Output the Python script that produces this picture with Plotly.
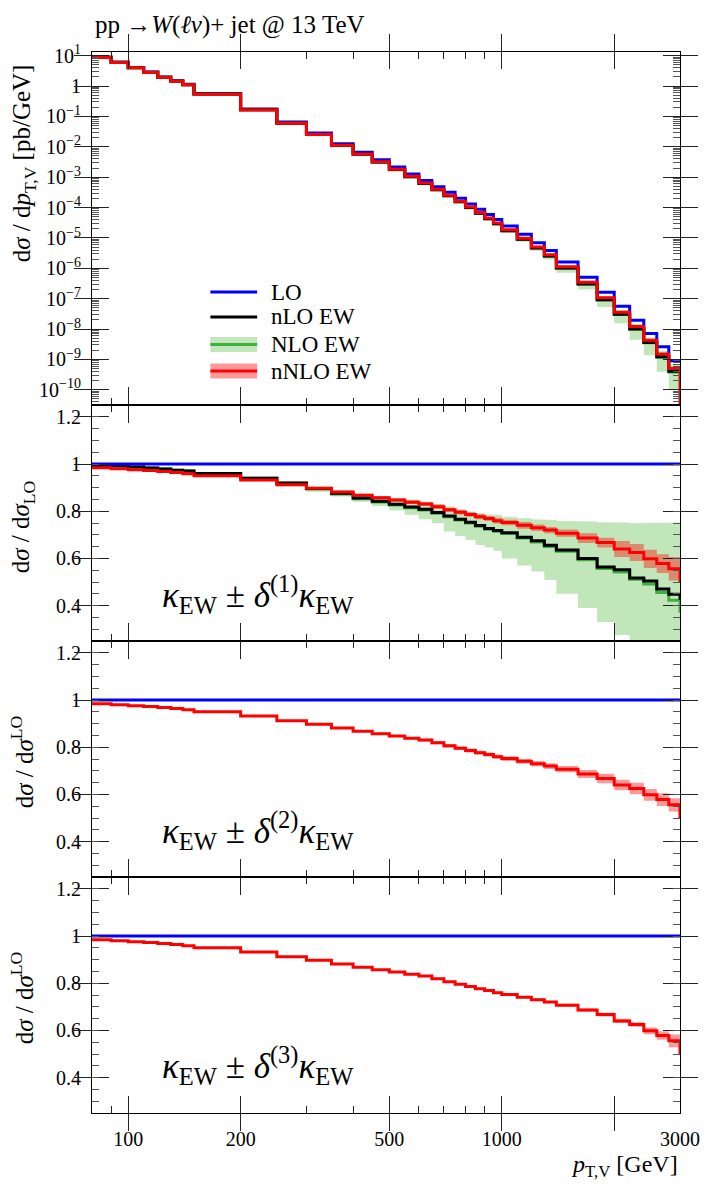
import numpy as np
import plotly.graph_objects as go
from plotly.subplots import make_subplots

# ---------------- data ----------------
edges = [80, 90, 100, 110, 120, 130, 140, 150, 200, 250, 300, 350, 400, 450, 500, 550,
         600, 650, 700, 750, 800, 850, 900, 950, 1000, 1100, 1200, 1300, 1400, 1600,
         1800, 2000, 2200, 2400, 2600, 2800, 3000]

# LO differential cross section [pb/GeV]
xs_lo = [8.9, 6.1, 4.07, 2.88, 1.98, 1.50, 1.14, 0.565, 0.175, 0.065, 0.0285, 0.0127,
         0.0066, 0.00372, 0.00214, 0.00127, 7.7e-4, 4.84e-4, 3.16e-4, 2.04e-4, 1.32e-4,
         8.8e-5, 5.9e-5, 4.07e-5, 2.45e-5, 1.32e-5, 6.9e-6, 3.85e-6, 1.6e-6, 5.1e-7,
         1.62e-7, 5.6e-8, 1.95e-8, 7.2e-9, 2.6e-9, 9.1e-10]

# ratios to LO
ratio_nlo_ew = [0.994, 0.991, 0.987, 0.983, 0.979, 0.974, 0.970, 0.960, 0.940, 0.919,
                0.896, 0.876, 0.856, 0.842, 0.829, 0.818, 0.808, 0.794, 0.780, 0.766,
                0.753, 0.739, 0.727, 0.718, 0.709, 0.690, 0.675, 0.656, 0.636, 0.600,
                0.564, 0.552, 0.517, 0.504, 0.470, 0.448]
ratio_NLO_ew = [0.994, 0.991, 0.987, 0.983, 0.979, 0.974, 0.970, 0.960, 0.940, 0.918,
                0.894, 0.873, 0.853, 0.839, 0.826, 0.815, 0.805, 0.791, 0.777, 0.763,
                0.750, 0.736, 0.724, 0.715, 0.705, 0.686, 0.670, 0.650, 0.630, 0.594,
                0.557, 0.542, 0.512, 0.491, 0.455, 0.423]
ratio_NLO_ew_low = [0.982, 0.978, 0.974, 0.970, 0.966, 0.961, 0.956, 0.946, 0.926, 0.905,
                    0.882, 0.862, 0.840, 0.822, 0.803, 0.785, 0.766, 0.749, 0.714, 0.695,
                    0.678, 0.657, 0.646, 0.632, 0.600, 0.570, 0.545, 0.508, 0.450, 0.390,
                    0.330, 0.275, 0.230, 0.190, 0.150, 0.110]
ratio_NLO_ew_high = [0.997, 0.994, 0.991, 0.987, 0.983, 0.979, 0.975, 0.966, 0.946, 0.926,
                     0.905, 0.888, 0.874, 0.863, 0.855, 0.848, 0.841, 0.831, 0.820, 0.806,
                     0.799, 0.791, 0.787, 0.784, 0.777, 0.770, 0.766, 0.763, 0.759, 0.756,
                     0.753, 0.752, 0.749, 0.749, 0.749, 0.752]
ratio_nnlo_ew = [0.984, 0.980, 0.976, 0.972, 0.968, 0.964, 0.959, 0.950, 0.932, 0.912,
                 0.897, 0.881, 0.868, 0.857, 0.847, 0.838, 0.830, 0.819, 0.806, 0.796,
                 0.786, 0.777, 0.769, 0.760, 0.752, 0.740, 0.730, 0.720, 0.707, 0.686,
                 0.667, 0.640, 0.625, 0.598, 0.578, 0.556]
# uncertainty half-widths of nNLO EW for delta^(1), delta^(2), delta^(3)
delta1 = [0.003, 0.003, 0.003, 0.003, 0.003, 0.003, 0.003, 0.004, 0.004, 0.005, 0.005,
          0.006, 0.006, 0.007, 0.007, 0.008, 0.008, 0.009, 0.009, 0.010, 0.010, 0.011,
          0.011, 0.012, 0.012, 0.014, 0.014, 0.013, 0.015, 0.021, 0.021, 0.034, 0.036,
          0.039, 0.040, 0.050]
delta2 = [0.002, 0.002, 0.002, 0.002, 0.002, 0.002, 0.002, 0.003, 0.003, 0.003, 0.004,
          0.004, 0.004, 0.005, 0.005, 0.005, 0.006, 0.006, 0.007, 0.007, 0.008, 0.008,
          0.009, 0.009, 0.010, 0.010, 0.011, 0.012, 0.013, 0.017, 0.020, 0.022, 0.024,
          0.025, 0.027, 0.028]
delta3 = [0.001, 0.001, 0.001, 0.001, 0.001, 0.001, 0.001, 0.001, 0.002, 0.002, 0.002,
          0.002, 0.002, 0.002, 0.003, 0.003, 0.003, 0.003, 0.003, 0.003, 0.003, 0.004,
          0.004, 0.004, 0.004, 0.004, 0.005, 0.005, 0.006, 0.007, 0.008, 0.009, 0.010,
          0.014, 0.018, 0.027]
# value of the (clipped) bin beyond 3000 GeV seen as a drop at the right edge
edge_drop_nnlo = 0.50
edge_drop_nlo = 0.425
edge_drop_NLO = 0.37

x_major = [100, 200, 500, 1000, 2000, 3000]
x_major_text = ["100", "200", "500", "1000", "", "3000"]
x_minor = [90, 300, 400, 600, 700, 800, 900]
y_top_vals = [10.0 ** k for k in range(1, -11, -1)]
y_top_text = ["10<sup>1</sup>", "1"] + ["10<sup>\u2212%d</sup>" % k for k in range(1, 11)]
y_top_minor = [m * 10.0 ** e for e in range(-11, 2) for m in range(2, 10)]
y_ratio_vals = [0.4, 0.6, 0.8, 1.0, 1.2]
y_ratio_text = ["0.4", "0.6", "0.8", "1", "1.2"]
y_ratio_minor = [round(0.25 + 0.05 * i, 2) for i in range(21)]

legend_names = ["LO", "nLO EW", "NLO EW", "nNLO EW"]
title_text = "pp \u2192<i>W</i>(<i>\u2113\u03bd</i>)+ jet @ 13 TeV"

# ---------------- styling ----------------
W, H = 712, 1187
ML, MR, MT, MB = 92, 29, 52, 74
PW, PH = W - ML - MR, H - MT - MB
FONT = "Liberation Serif"
C_BLUE = "#0000ff"
C_BLACK = "#000000"
C_GREEN = "rgb(60,175,60)"
C_GREEN_BAND = "rgba(90,190,70,0.38)"
C_RED = "#ff0000"
C_RED_BAND = "rgba(255,0,0,0.40)"
C_TICK = "#222222"
LW = 3
XR = [np.log10(80), np.log10(3000)]


def px2x(px):
    return (px - ML) / PW


def py2y(py):
    return (MT + PH - py) / PH


def steps(vals, end=None):
    x, y = [], []
    for i, v in enumerate(vals):
        x += [edges[i], edges[i + 1]]
        y += [v, v]
    if end is not None:
        x.append(edges[-1])
        y.append(end)
    return x, y


def band(lo_v, hi_v):
    xh, yh = steps(hi_v)
    xl, yl = steps(lo_v)
    return xh + xl[::-1], yh + yl[::-1]


fig = make_subplots(rows=4, cols=1, shared_xaxes=True, vertical_spacing=0,
                    row_heights=[353, 236, 236, 236])


def add_line(vals, color, row, end=None):
    x, y = steps(vals, end)
    fig.add_trace(go.Scatter(x=x, y=y, mode="lines", line=dict(color=color, width=LW),
                             showlegend=False, hoverinfo="skip"), row=row, col=1)


def add_band(lo_v, hi_v, color, row):
    x, y = band(lo_v, hi_v)
    fig.add_trace(go.Scatter(x=x, y=y, mode="lines", fill="toself", fillcolor=color,
                             line=dict(width=0), showlegend=False, hoverinfo="skip"),
                  row=row, col=1)


# ---- top panel ----
top_nlo = [a * r for a, r in zip(xs_lo, ratio_nlo_ew)]
top_NLO = [a * r for a, r in zip(xs_lo, ratio_NLO_ew)]
top_NLO_lo = [a * r for a, r in zip(xs_lo, ratio_NLO_ew_low)]
top_NLO_hi = [a * r for a, r in zip(xs_lo, ratio_NLO_ew_high)]
top_nnlo = [a * r for a, r in zip(xs_lo, ratio_nnlo_ew)]
top_nnlo_lo = [a * (r - d) for a, r, d in zip(xs_lo, ratio_nnlo_ew, delta1)]
top_nnlo_hi = [a * (r + d) for a, r, d in zip(xs_lo, ratio_nnlo_ew, delta1)]

add_band(top_NLO_lo, top_NLO_hi, C_GREEN_BAND, 1)
add_band(top_nnlo_lo, top_nnlo_hi, C_RED_BAND, 1)
add_line(xs_lo, C_BLUE, 1)
add_line(top_NLO, C_GREEN, 1)
add_line(top_nlo, C_BLACK, 1)
add_line(top_nnlo, C_RED, 1, end=1e-13)

# ---- ratio panels ----
ratio_lo = [a / a for a in xs_lo]
deltas = [delta1, delta2, delta3]
for k, row in enumerate([2, 3, 4]):
    d = deltas[k]
    lo_b = [r - e for r, e in zip(ratio_nnlo_ew, d)]
    hi_b = [r + e for r, e in zip(ratio_nnlo_ew, d)]
    if row == 2:
        add_band(ratio_NLO_ew_low, ratio_NLO_ew_high, C_GREEN_BAND, row)
    add_band(lo_b, hi_b, C_RED_BAND, row)
    if row == 2:
        add_line(ratio_NLO_ew, C_GREEN, row, end=edge_drop_NLO)
        add_line(ratio_nlo_ew, C_BLACK, row, end=edge_drop_nlo)
    add_line(ratio_lo, C_BLUE, row)
    add_line(ratio_nnlo_ew, C_RED, row, end=edge_drop_nnlo)

# ---------------- axes ----------------
tickfont = dict(family=FONT, size=20, color="black")
fig.update_xaxes(type="log", range=XR, showgrid=False,
                 zeroline=False, showline=True, linecolor="black", linewidth=1.2,
                 mirror="allticks", ticks="inside", ticklen=17, tickwidth=1,
                 tickcolor=C_TICK, tickmode="array", tickvals=x_major,
                 ticktext=x_major_text, tickfont=tickfont, ticklabelstandoff=8)
fig.update_xaxes(showticklabels=True, row=4, col=1)

fig.update_yaxes(type="log", range=[-10.5, 1.12], showgrid=False, zeroline=False,
                 showline=True, linecolor="black", linewidth=1.2, mirror="allticks",
                 ticks="inside", ticklen=17, tickwidth=1, tickcolor=C_TICK,
                 tickmode="array", tickvals=y_top_vals, ticktext=y_top_text,
                 tickfont=tickfont, ticklabelstandoff=6, row=1, col=1)
for row in [2, 3, 4]:
    fig.update_yaxes(range=[0.25, 1.25], showgrid=False, zeroline=False, showline=True,
                     linecolor="black", linewidth=1.2, mirror="allticks", ticks="inside",
                     ticklen=17, tickwidth=1, tickcolor=C_TICK, tickmode="array",
                     tickvals=y_ratio_vals, ticktext=y_ratio_text, tickfont=tickfont,
                     ticklabelstandoff=6, row=row, col=1)

# minor ticks through overlaying axes (short ticks, no labels)
xnames = ["x", "x2", "x3", "x4"]
ynames = ["y", "y2", "y3", "y4"]
extra = {}
for i in range(4):
    extra["xaxis%d" % (5 + i)] = dict(
        type="log", range=XR, overlaying=xnames[i], anchor=ynames[i], side="bottom",
        showgrid=False, zeroline=False, showline=False, ticks="inside", ticklen=7,
        tickwidth=1, tickcolor=C_TICK, mirror="ticks", tickmode="array",
        tickvals=x_minor, showticklabels=False)
    if i == 0:
        yr, yt, ytype = [-10.5, 1.12], y_top_minor, "log"
    else:
        yr, yt, ytype = [0.25, 1.25], y_ratio_minor, "linear"
    extra["yaxis%d" % (5 + i)] = dict(
        type=ytype, range=yr, overlaying=ynames[i], anchor=xnames[i], side="left",
        showgrid=False, zeroline=False, showline=False, ticks="inside", ticklen=7,
        tickwidth=1, tickcolor="#555555", mirror="ticks", tickmode="array",
        tickvals=yt, showticklabels=False)
    fig.add_trace(go.Scatter(x=[None], y=[None], xaxis="x%d" % (5 + i), yaxis=ynames[i],
                             showlegend=False, hoverinfo="skip"))
    fig.add_trace(go.Scatter(x=[None], y=[None], xaxis=xnames[i], yaxis="y%d" % (5 + i),
                             showlegend=False, hoverinfo="skip"))
fig.update_layout(**extra)

# ---------------- annotations ----------------
ann = []
ann.append(dict(text=title_text, x=px2x(93), y=py2y(25), xanchor="left", yanchor="middle",
                font=dict(family=FONT, size=25, color="black")))
ann.append(dict(text="<i>p</i><sub>T,V</sub> [GeV]", x=1.0, y=py2y(1166), xanchor="right",
                yanchor="middle", font=dict(family=FONT, size=24, color="black")))
ann.append(dict(text="d<i>\u03c3</i> / d<i>p</i><sub>T,V</sub> [pb/GeV]", x=px2x(24),
                y=py2y(163), textangle=-90, xanchor="center", yanchor="middle",
                font=dict(family=FONT, size=25, color="black")))
ann.append(dict(text="d<i>\u03c3</i> / d<i>\u03c3</i><sub>LO</sub>", x=px2x(22),
                y=py2y(527), textangle=-90, xanchor="center", yanchor="middle",
                font=dict(family=FONT, size=25, color="black")))
for yc in [762, 998]:
    ann.append(dict(text="d<i>\u03c3</i> / d<i>\u03c3</i><sup>LO</sup>", x=px2x(22),
                    y=py2y(yc), textangle=-90, xanchor="center", yanchor="middle",
                    font=dict(family=FONT, size=25, color="black")))
for k, yc in zip([1, 2, 3], [594, 830, 1065]):
    ann.append(dict(text="<i>\u03ba</i><sub>EW</sub> \u00b1 <i>\u03b4</i><sup>(%d)</sup><i>\u03ba</i><sub>EW</sub>" % k,
                    x=px2x(160), y=py2y(yc), xanchor="left", yanchor="middle",
                    font=dict(family=FONT, size=35, color="black")))

# legend (drawn by hand)
leg_rows = [292, 317, 344.5, 371]
leg_cols = [C_BLUE, C_BLACK, C_GREEN, C_RED]
leg_bands = [None, None, C_GREEN_BAND, C_RED_BAND]
shapes = []
for name, yc, col, bc in zip(legend_names, leg_rows, leg_cols, leg_bands):
    if bc is not None:
        shapes.append(dict(type="rect", xref="paper", yref="paper", x0=px2x(211),
                           x1=px2x(258), y0=py2y(yc - 7.5), y1=py2y(yc + 7.5),
                           fillcolor=bc, line=dict(width=0), layer="above"))
    shapes.append(dict(type="line", xref="paper", yref="paper", x0=px2x(211), x1=px2x(258),
                       y0=py2y(yc), y1=py2y(yc), line=dict(color=col, width=3),
                       layer="above"))
    ann.append(dict(text=name, x=px2x(270), y=py2y(yc), xanchor="left", yanchor="middle",
                    font=dict(family=FONT, size=23, color="black")))

for a in ann:
    a.setdefault("xref", "paper")
    a.setdefault("yref", "paper")
    a["showarrow"] = False

fig.update_layout(width=W, height=H, margin=dict(l=ML, r=MR, t=MT, b=MB),
                  paper_bgcolor="white", plot_bgcolor="white", showlegend=False,
                  annotations=ann, shapes=shapes,
                  font=dict(family=FONT, size=20, color="black"))

fig.write_html("out.html")
